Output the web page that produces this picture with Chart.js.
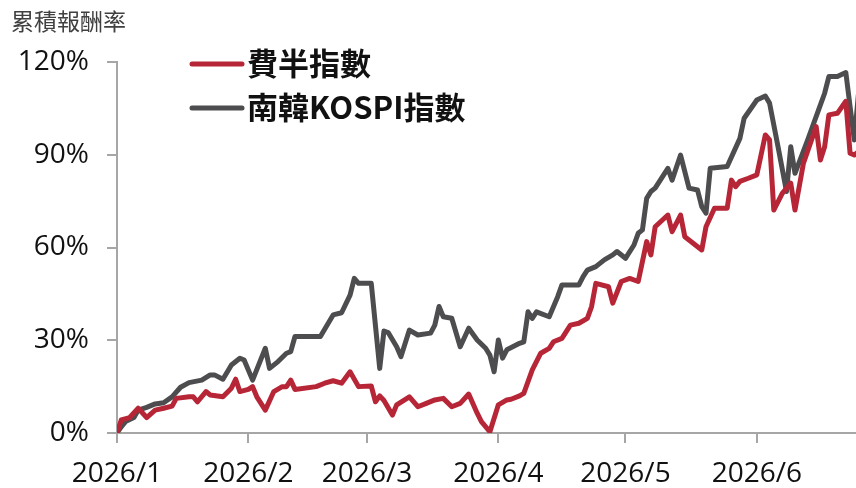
<!DOCTYPE html>
<html>
<head>
<meta charset="utf-8">
<script src="https://cdn.jsdelivr.net/npm/chart.js@4"></script>
<style>
  html, body { margin: 0; padding: 0; background: #fff; }
  #wrap { width: 856px; height: 488px; position: relative; }
</style>
</head>
<body>
<div id="wrap"><canvas id="returnChart"></canvas></div>
<script>
// 標題與圖例文字
const yTitle = '累積報酬率';
const seriesNames = ['費半指數', '南韓KOSPI指數'];

// x 軸刻度（月份）
const monthLabels = ['2026/1', '2026/2', '2026/3', '2026/4', '2026/5', '2026/6'];
const yTicks = [0, 30, 60, 90, 120];

// 費半指數 累積報酬率 (%)
const semiDates = ['1/1', '1/2', '1/4', '1/6', '1/8', '1/10', '1/12', '1/14', '1/15', '1/18', '1/19', '1/20',
  '1/22', '1/23', '1/26', '1/28', '1/29', '1/30', '2/1', '2/2', '2/3', '2/5', '2/7', '2/9', '2/10', '2/11',
  '2/12', '2/17', '2/19', '2/21', '2/23', '2/25', '2/27', '3/2', '3/3', '3/4', '3/5', '3/7', '3/8', '3/11',
  '3/13', '3/15', '3/17', '3/19', '3/21', '3/23', '3/25', '3/27', '3/28', '3/30', '4/1', '4/3', '4/4', '4/6',
  '4/7', '4/9', '4/11', '4/13', '4/14', '4/16', '4/18', '4/20', '4/22', '4/23', '4/24', '4/27', '4/28', '4/30',
  '5/2', '5/4', '5/6', '5/7', '5/8', '5/11', '5/12', '5/14', '5/15', '5/19', '5/20', '5/22', '5/25', '5/26',
  '5/27', '5/28', '5/30', '6/1', '6/3', '6/4', '6/5', '6/7', '6/9', '6/10', '6/12', '6/15', '6/16', '6/17',
  '6/18', '6/20', '6/22', '6/23', '6/24', '6/25'];
const semiValues = [0, 4.2, 5.0, 8.0, 5.0, 7.4, 8.0, 8.7, 11.2, 11.7, 11.7, 10.1,
  13.4, 12.3, 11.7, 14.5, 17.4, 13.4, 14.1, 15.0, 11.7, 7.4, 13.4, 15.0, 15.0, 17.1,
  14.1, 15.0, 16.1, 16.9, 16.1, 19.8, 15.0, 15.2, 10.1, 12.0, 10.5, 5.8, 9.1, 11.7,
  8.5, 9.6, 10.7, 11.2, 8.5, 9.6, 12.6, 6.4, 3.7, 0.4, 9.1, 10.7, 10.9, 12.0,
  12.8, 20.4, 25.8, 27.4, 29.5, 30.6, 34.9, 35.5, 37.1, 40.9, 48.4, 47.3, 42.0, 49.0,
  50.0, 49.0, 61.9, 57.6, 66.7, 70.5, 65.1, 70.5, 63.5, 59.2, 66.7, 72.7, 72.7, 81.8,
  79.7, 81.4, 82.4, 83.5, 96.4, 94.8, 72.1, 77.5, 80.8, 72.1, 87.3, 99.1, 88.3, 92.6,
  102.9, 103.4, 107.3, 90.5, 89.9, 91.0];

// 南韓KOSPI指數 累積報酬率 (%)
const kospiDates = ['1/1', '1/2', '1/3', '1/5', '1/6', '1/8', '1/10', '1/12', '1/14', '1/16', '1/18', '1/21',
  '1/23', '1/24', '1/26', '1/28', '1/30', '1/31', '2/2', '2/5', '2/6', '2/8', '2/10', '2/11', '2/12', '2/18',
  '2/21', '2/23', '2/25', '2/26', '2/27', '3/2', '3/4', '3/5', '3/6', '3/8', '3/9', '3/11', '3/13', '3/16',
  '3/17', '3/18', '3/19', '3/21', '3/23', '3/25', '3/27', '3/29', '3/30', '3/31', '4/1', '4/2', '4/3', '4/6',
  '4/7', '4/8', '4/9', '4/10', '4/13', '4/15', '4/16', '4/20', '4/21', '4/22', '4/24', '4/26', '4/28', '4/29',
  '5/1', '5/3', '5/4', '5/5', '5/6', '5/7', '5/8', '5/11', '5/12', '5/14', '5/16', '5/18', '5/19', '5/20',
  '5/21', '5/25', '5/28', '5/29', '6/1', '6/3', '6/4', '6/6', '6/8', '6/9', '6/10', '6/13', '6/16', '6/17',
  '6/18', '6/20', '6/22', '6/23', '6/24', '6/25'];
const kospiValues = [0, 2.0, 3.7, 5.0, 7.4, 8.3, 9.4, 9.8, 11.7, 14.8, 16.3, 17.1,
  18.8, 18.8, 17.4, 22.0, 24.2, 23.6, 17.1, 27.4, 20.9, 23.1, 25.8, 26.3, 31.2, 31.2,
  38.2, 38.9, 44.6, 50.0, 48.4, 48.4, 20.9, 33.0, 32.5, 27.9, 24.7, 33.3, 31.7, 32.3,
  34.9, 40.9, 37.6, 37.1, 27.9, 33.9, 30.1, 27.4, 25.2, 19.8, 30.1, 24.2, 26.9, 29.0,
  29.5, 39.2, 37.1, 39.2, 37.6, 44.1, 47.9, 47.9, 50.6, 52.7, 53.8, 56.0, 57.6, 58.7,
  56.5, 60.8, 64.6, 65.7, 75.9, 78.1, 79.2, 85.6, 81.8, 89.9, 79.2, 78.6, 73.2, 71.1,
  85.6, 86.2, 95.3, 101.8, 107.7, 109.0, 106.7, 92.6, 78.1, 92.6, 84.0, 94.8, 106.1, 109.9,
  115.3, 115.3, 116.6, 105.6, 94.8, 110.0];

const seriesColors = ['#b72637', '#4d4d4f'];
const axisColor = '#a6a6a6';
const latinFont = '"Open Sans", "Noto Sans CJK TC", sans-serif';
const cjkFont = '"Noto Sans CJK TC", "Noto Sans", sans-serif';

// 日期 -> 從 1/1 起算的天數
function dayOf(md) {
    const [m, d] = md.split('/').map(Number);
    return (Date.UTC(2026, m - 1, d) - Date.UTC(2026, 0, 1)) / 86400000;
}
const monthDays = monthLabels.map(l => dayOf(l.split('/')[1] + '/1'));

function toPoints(dates, values) {
    return dates.map((d, i) => ({ x: dayOf(d), y: values[i] }));
}

// 標題與圖例（畫在圖內左上）
const overlayPlugin = {
    id: 'overlay',
    afterDraw(chart) {
        const ctx = chart.ctx;
        ctx.save();
        ctx.fillStyle = '#404040';
        ctx.font = '23px ' + cjkFont;
        ctx.textBaseline = 'middle';
        ctx.textAlign = 'left';
        ctx.fillText(yTitle, 11, 21);

        const rows = [64, 108];
        chart.data.datasets.forEach((ds, i) => {
            ctx.strokeStyle = ds.borderColor;
            ctx.lineWidth = 5;
            ctx.lineCap = 'round';
            ctx.beginPath();
            ctx.moveTo(192, rows[i]);
            ctx.lineTo(242, rows[i]);
            ctx.stroke();
            ctx.fillStyle = '#111';
            ctx.font = 'bold 31px ' + cjkFont;
            ctx.fillText(ds.label, 247, rows[i] - 1);
        });
        ctx.restore();
    }
};

new Chart(document.getElementById('returnChart'), {
    type: 'line',
    data: {
        datasets: [
            {
                label: seriesNames[0],
                data: toPoints(semiDates, semiValues),
                borderColor: seriesColors[0],
                borderWidth: 5,
                pointRadius: 0,
                tension: 0,
                borderJoinStyle: 'round'
            },
            {
                label: seriesNames[1],
                data: toPoints(kospiDates, kospiValues),
                borderColor: seriesColors[1],
                borderWidth: 5,
                pointRadius: 0,
                tension: 0,
                borderJoinStyle: 'round'
            }
        ]
    },
    options: {
        responsive: true,
        maintainAspectRatio: false,
        animation: false,
        layout: { padding: { top: 62, right: 0, left: 0, bottom: 0 } },
        plugins: {
            legend: { display: false },
            tooltip: { enabled: false }
        },
        scales: {
            x: {
                type: 'linear',
                min: 0,
                max: 174.4,
                afterBuildTicks: scale => { scale.ticks = monthDays.map(v => ({ value: v })); },
                afterFit: scale => { scale.height = 55; },
                ticks: {
                    callback: (v) => monthLabels[monthDays.indexOf(v)],
                    font: { family: latinFont, size: 28 },
                    color: '#111',
                    padding: 14,
                    maxRotation: 0,
                    autoSkip: false
                },
                grid: { drawOnChartArea: false, tickLength: 10, color: axisColor, lineWidth: 2 },
                border: { color: axisColor, width: 2 }
            },
            y: {
                min: 0,
                max: 120,
                afterBuildTicks: scale => { scale.ticks = yTicks.map(v => ({ value: v })); },
                afterFit: scale => { scale.width = 117; },
                ticks: {
                    callback: v => v + '%',
                    font: { family: latinFont, size: 28 },
                    color: '#111',
                    padding: 18
                },
                grid: { drawOnChartArea: false, tickLength: 10, color: axisColor, lineWidth: 2 },
                border: { color: axisColor, width: 2 }
            }
        }
    },
    plugins: [overlayPlugin]
});
</script>
</body>
</html>
